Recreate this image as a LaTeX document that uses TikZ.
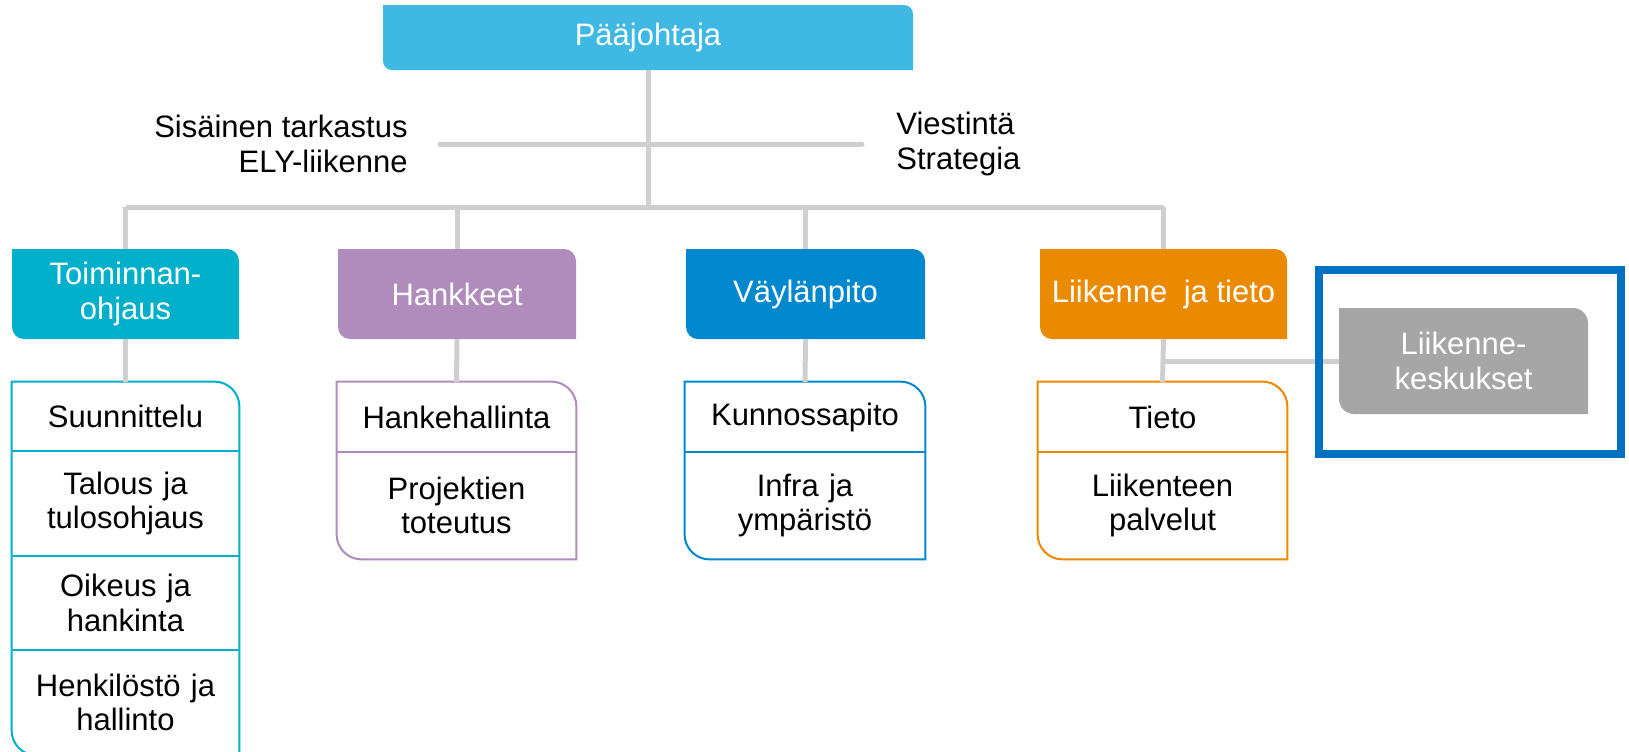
\documentclass[tikz,border=0pt]{standalone}
\usepackage{fontspec}
\setmainfont{Liberation Sans}
\usetikzlibrary{positioning,fit,backgrounds}
\definecolor{lg}{HTML}{D0CECE}
\definecolor{pj}{HTML}{3FB8E4}
\definecolor{to}{HTML}{00B0CA}
\definecolor{ha}{HTML}{B08CBD}
\definecolor{va}{HTML}{0088CF}
\definecolor{li}{HTML}{E98A00}
\definecolor{gr}{HTML}{A6A6A6}
\definecolor{fr}{HTML}{0070C0}
% box with round top right and bottom left corner
\newcommand\cornerbox[3][6pt]{%
  \path[#3] (#2.north west) -- ([xshift=-#1]#2.north east)
    arc[start angle=90,end angle=0,radius=#1] -- (#2.south east)
    -- ([xshift=#1]#2.south west) arc[start angle=270,end angle=180,radius=#1] -- cycle;}
\tikzstyle{conn}=[draw=lg,line width=2.5pt]
\tikzstyle{head}=[inner sep=0pt,outer sep=0pt,text=white,align=center,minimum width=113.5pt,minimum height=45pt]
\tikzstyle{item}=[inner sep=0pt,outer sep=0pt,align=center,text width=113.5pt,minimum height=35pt]
\tikzstyle{list}=[line width=1pt,fill=white]

\begin{document}
\begin{tikzpicture}[x=0.5pt,y=0.5pt,font=\fontsize{15.5pt}{17.3pt}\selectfont]
  \useasboundingbox (0,0) rectangle (1629,-751);
  \node[head,minimum width=265pt,minimum height=32.5pt] (pj) at (648,-37.5) {Pääjohtaja};
  \node[anchor=east,align=right,inner sep=0pt] (sis) at (408,-144) {Sisäinen tarkastus\\ELY-liikenne};
  \node[anchor=west,align=left,inner sep=0pt] (vie) at (896,-144) {Viestintä\\Strategia};
  \coordinate (bus) at (0,-207);

  \node[head] (toim) at (125.5,-294) {Toiminnan-\\ohjaus};
  \node[head,minimum width=119pt] (hank) at (457,-294) {Hankkeet};
  \node[head,minimum width=119.5pt] (vayl) at (805.5,-294) {Väylänpito};
  \node[head,minimum width=123.5pt] (lt) at (1163.5,-294) {Liikenne\hspace{4pt} ja tieto};
  \node[head,minimum width=124.5pt,minimum height=53pt] (lk) at (1463.5,-361) {Liikenne-\\keskukset};

  % lists
  \node[item,anchor=north,minimum height=34.5pt] (suu) at (125.5,-382) {Suunnittelu};
  \node[item,below=0pt of suu,minimum height=52.5pt] (tal) {Talous ja\\tulosohjaus};
  \node[item,below=0pt of tal,minimum height=47pt] (oik) {Oikeus ja\\hankinta};
  \node[item,below=0pt of oik,minimum height=52.5pt] (hen) {Henkilöstö ja\\hallinto};
  \node[item,anchor=north,text width=119.5pt] (hhal) at (456.5,-382) {Hankehallinta};
  \node[item,below=0pt of hhal,text width=119.5pt,minimum height=53.5pt] (proj) {Projektien\\toteutus};
  \node[item,anchor=north,text width=120pt] (kun) at (805,-382) {Kunnossapito};
  \node[item,below=0pt of kun,text width=120pt,minimum height=53.5pt] (inf) {Infra ja\\ympäristö};
  \node[item,anchor=north,text width=124.5pt] (tie) at (1162.5,-382) {Tieto};
  \node[item,below=0pt of tie,text width=124.5pt,minimum height=53.5pt] (lp) {Liikenteen\\palvelut};
  \node[fit=(suu)(hen),inner sep=0pt] (toimlist) {};
  \node[fit=(hhal)(proj),inner sep=0pt] (hanklist) {};
  \node[fit=(kun)(inf),inner sep=0pt] (vayllist) {};
  \node[fit=(tie)(lp),inner sep=0pt] (ltlist) {};

  \begin{scope}[on background layer]
    \cornerbox[4.5pt]{pj}{fill=pj}
    \cornerbox{toim}{fill=to}
    \cornerbox{hank}{fill=ha}
    \cornerbox{vayl}{fill=va}
    \cornerbox{lt}{fill=li}
    \cornerbox[7.5pt]{lk}{fill=gr}
    \cornerbox[12.5pt]{toimlist}{list,draw=to}
    \cornerbox[12.5pt]{hanklist}{list,draw=ha}
    \cornerbox[12.5pt]{vayllist}{list,draw=va}
    \cornerbox[12.5pt]{ltlist}{list,draw=li}
  \end{scope}
  \foreach \a/\c in {suu/to,tal/to,oik/to,hhal/ha,kun/va,tie/li}
    \draw[\c,line width=1pt] (\a.south west) -- (\a.south east);

  % connectors
  \draw[conn] (pj.south) -- (pj.south |- bus);
  \draw[conn,line cap=round] ([xshift=16pt]sis.east) -- ([xshift=-17pt]vie.west);
  \draw[conn] (toim.north |- bus) -- (lt.north |- bus);
  \foreach \n/\m in {toim/suu,hank/hhal,vayl/kun,lt/tie}{
    \draw[conn] (\n.north) -- (\n.north |- bus);
    \draw[conn] (\n.south) -- (\m.north);
  }
  \draw[conn] (lt.south |- lk.west) -- (lk.west);
  \draw[fr,line width=4pt] (1319,-270) rectangle (1621,-454);
\end{tikzpicture}
\end{document}
